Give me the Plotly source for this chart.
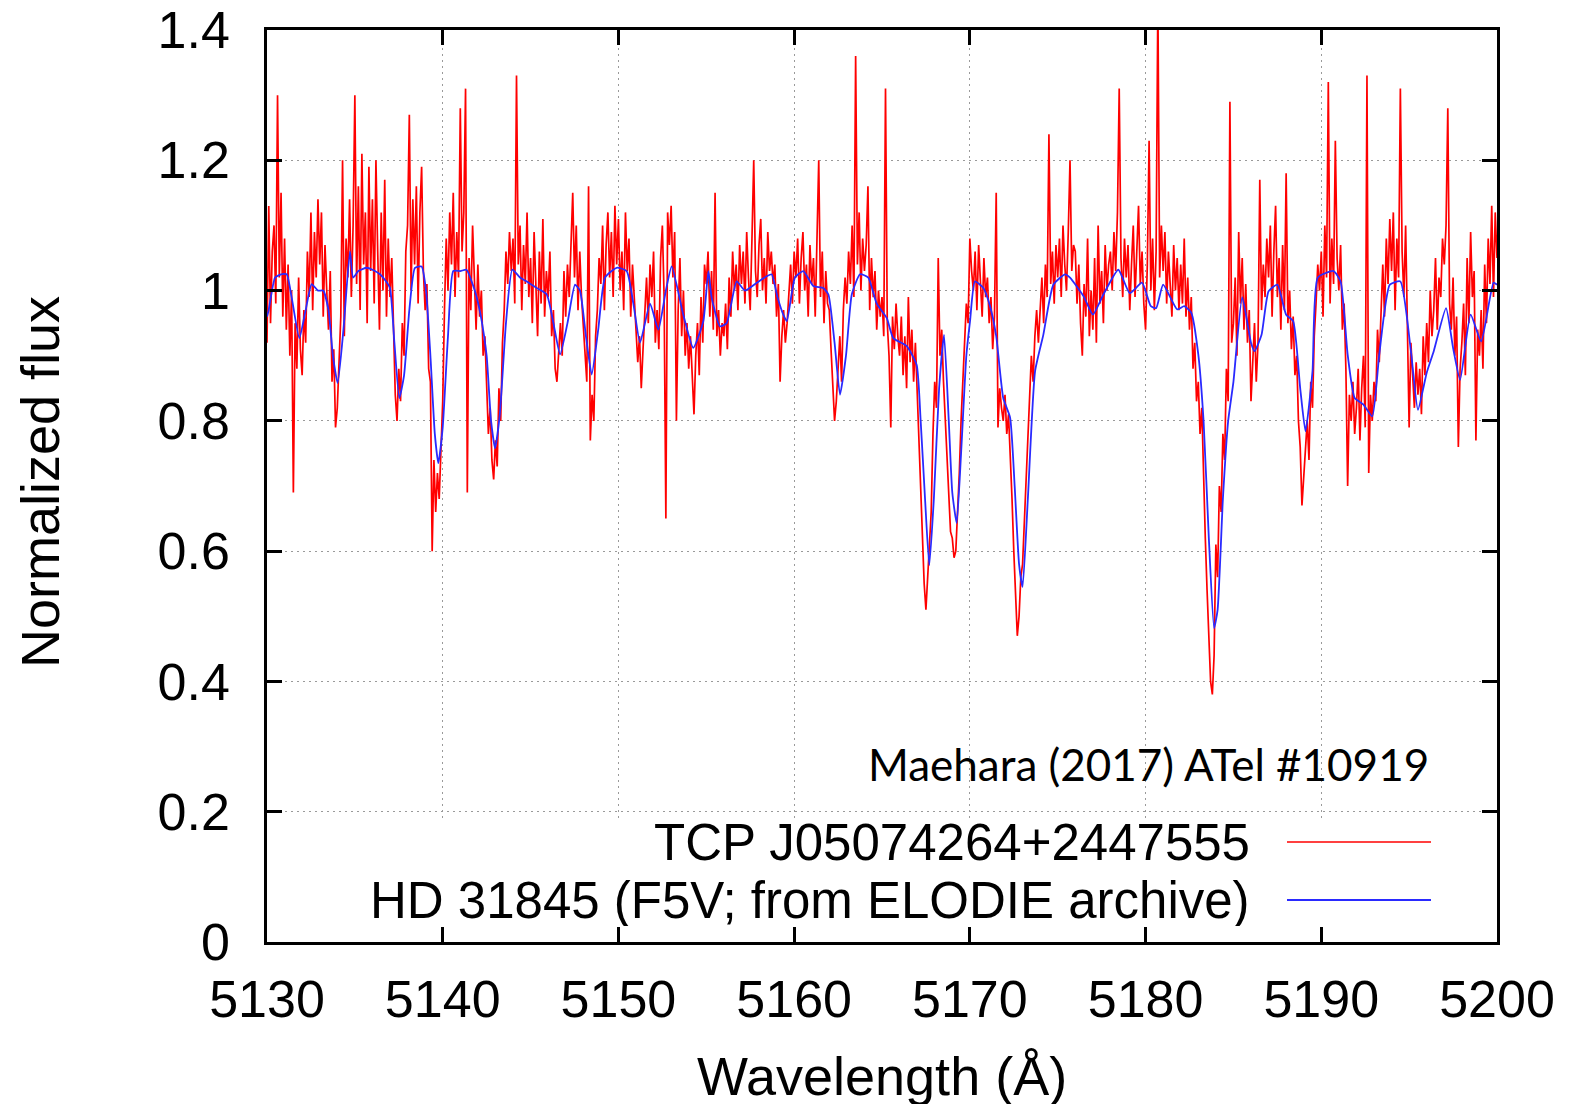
import numpy as np
import plotly.graph_objects as go

# Reference star spectrum (HD 31845, F5V, ELODIE archive)
blue_wl = [
    5130.0, 5130.08, 5130.46, 5130.8, 5131.12, 5131.4, 5131.84, 5132.2, 5132.54, 5132.9,
    5133.2, 5133.5, 5133.75, 5134.02, 5134.35, 5134.72, 5134.9, 5135.2, 5135.67, 5136.0,
    5136.43, 5136.75, 5137.0, 5137.25, 5137.53, 5137.8, 5138.1, 5138.42, 5138.8, 5139.05,
    5139.3, 5139.55, 5139.75, 5140.0, 5140.3, 5140.6, 5141.0, 5141.36, 5141.7, 5141.93,
    5142.22, 5142.5, 5142.75, 5142.98, 5143.25, 5143.6, 5143.96, 5144.4, 5144.78, 5145.35,
    5145.92, 5146.3, 5146.68, 5147.1, 5147.53, 5147.81, 5148.15, 5148.48, 5148.85, 5149.24,
    5149.9, 5150.47, 5150.85, 5151.23, 5151.8, 5152.27, 5152.7, 5153.03, 5153.69, 5154.26,
    5154.83, 5155.12, 5155.3, 5155.78, 5156.16, 5156.73, 5157.2, 5157.87, 5158.44, 5158.72,
    5159.05, 5159.38, 5159.58, 5160.05, 5160.52, 5161.09, 5161.66, 5161.95, 5162.3, 5162.61,
    5162.95, 5163.28, 5163.75, 5164.22, 5164.7, 5165.27, 5165.64, 5166.4, 5166.97, 5167.2,
    5167.45, 5167.69, 5167.95, 5168.25, 5168.53, 5168.8, 5169.0, 5169.25, 5169.5, 5169.8,
    5170.01, 5170.29, 5170.77, 5171.15, 5171.5, 5171.9, 5172.29, 5172.55, 5172.8, 5173.0,
    5173.3, 5173.71, 5174.18, 5174.75, 5175.42, 5175.7, 5176.5, 5177.0, 5177.6, 5178.45,
    5179.1, 5179.8, 5180.3, 5180.6, 5181.0, 5181.8, 5182.2, 5182.6, 5183.0, 5183.3,
    5183.6, 5183.9, 5184.1, 5184.4, 5184.7, 5185.0, 5185.5, 5186.0, 5186.2, 5186.6,
    5187.0, 5187.5, 5188.0, 5188.4, 5188.8, 5189.1, 5189.5, 5189.8, 5190.7, 5191.1,
    5191.5, 5191.9, 5192.4, 5192.9, 5193.3, 5193.9, 5194.5, 5195.1, 5195.5, 5196.0,
    5196.4, 5197.1, 5197.5, 5197.9, 5198.5, 5199.1, 5199.8, 5200.0,
]
blue_flux = [
    0.96, 0.968, 1.02, 1.025, 1.025, 0.99, 0.927, 0.97, 1.01, 1.0,
    1.0, 0.97, 0.9, 0.858, 0.94, 1.06, 1.02, 1.03, 1.035, 1.032,
    1.025, 1.015, 1.004, 0.92, 0.835, 0.87, 0.97, 1.035, 1.037, 1.0,
    0.9, 0.78, 0.735, 0.79, 0.93, 1.03, 1.03, 1.032, 1.01, 0.99,
    0.953, 0.9, 0.8, 0.758, 0.81, 0.95, 1.032, 1.02, 1.014, 1.004,
    0.994, 0.95, 0.902, 0.95, 1.009, 1.0, 0.93, 0.871, 0.94, 1.02,
    1.035, 1.03, 0.98, 0.92, 0.98, 0.94, 1.0, 1.037, 0.963, 0.912,
    0.953, 1.03, 0.99, 0.945, 0.95, 1.014, 1.0, 1.012, 1.022, 1.025,
    0.99, 0.963, 0.953, 1.02, 1.03, 1.007, 1.004, 0.994, 0.92, 0.84,
    0.9, 0.994, 1.025, 1.02, 0.98, 0.958, 0.927, 0.915, 0.886, 0.8,
    0.68, 0.578, 0.68, 0.85, 0.932, 0.8, 0.69, 0.643, 0.75, 0.9,
    0.953, 1.014, 1.004, 0.976, 0.93, 0.835, 0.805, 0.7, 0.58, 0.545,
    0.68, 0.876, 0.932, 1.009, 1.025, 1.02, 0.99, 0.963, 0.994, 1.032,
    0.996, 1.012, 0.976, 0.973, 1.009, 0.971, 0.976, 0.966, 0.902, 0.8,
    0.62, 0.482, 0.51, 0.68, 0.8, 0.86, 0.99, 0.92, 0.907, 0.932,
    0.999, 1.009, 0.963, 0.953, 0.85, 0.784, 0.876, 1.02, 1.03, 1.014,
    0.902, 0.835, 0.825, 0.807, 0.902, 1.009, 1.014, 0.907, 0.817, 0.874,
    0.907, 0.973, 0.912, 0.863, 0.963, 0.922, 1.012, 1.009,
]

# Nova spectrum (TCP J05074264+2447555), sampled every 0.1 A from 5130.0 A
red_start = 5130.0
red_step = 0.1
red_flux = [
    0.92, 1.13, 0.95, 1.06, 1.10, 0.98, 1.30, 1.02, 1.15, 0.96,  # 5130
    1.08, 0.94, 1.04, 0.90, 1.00, 0.69, 0.95, 0.88, 1.02, 0.91,  # 5131
    0.87, 0.97, 0.92, 1.06, 0.99, 1.12, 0.97, 1.09, 1.02, 1.14,  # 5132
    1.04, 1.12, 0.96, 1.07, 1.00, 0.94, 1.03, 0.86, 0.91, 0.79,  # 5133
    0.82, 0.88, 0.96, 1.20, 0.93, 1.08, 1.02, 1.14, 0.99, 1.10,  # 5134
    1.30, 1.01, 1.16, 0.97, 1.21, 1.04, 1.12, 0.95, 1.19, 1.03,  # 5135
    1.14, 0.98, 1.20, 1.06, 0.94, 1.12, 1.00, 1.17, 0.96, 1.08,  # 5136
    0.99, 1.05, 0.92, 0.84, 0.80, 0.88, 0.83, 0.95, 0.90, 1.06,  # 5137
    1.10, 1.27, 1.00, 1.14, 1.04, 1.16, 0.98, 1.12, 1.19, 1.03,  # 5138
    0.97, 1.01, 0.88, 0.86, 0.60, 0.74, 0.66, 0.72, 0.68, 0.77,  # 5139
    0.83, 0.97, 1.08, 1.00, 1.12, 1.04, 1.15, 0.99, 1.09, 1.02,  # 5140
    1.28, 1.06, 1.12, 1.31, 0.69, 1.05, 0.97, 1.10, 1.02, 0.94,  # 5141
    1.04, 0.96, 1.00, 0.90, 0.93, 0.84, 0.78, 0.82, 0.74, 0.71,  # 5142
    0.77, 0.73, 0.85, 0.80, 0.92, 0.97, 1.06, 1.01, 1.09, 1.03,  # 5143
    1.08, 0.98, 1.33, 1.04, 1.10, 0.97, 1.07, 1.01, 1.12, 0.99,  # 5144
    1.05, 0.95, 1.09, 1.01, 0.93, 1.06, 0.98, 1.11, 0.96, 1.03,  # 5145
    0.99, 1.06, 0.93, 0.97, 0.88, 0.86, 0.91, 0.95, 0.90, 1.03,  # 5146
    0.96, 1.04, 0.99, 1.08, 1.15, 1.02, 1.10, 0.97, 1.06, 0.99,  # 5147
    0.94, 0.90, 0.86, 1.16, 0.77, 0.84, 0.80, 0.93, 0.97, 1.05,  # 5148
    1.01, 1.10, 0.97, 1.07, 1.12, 1.02, 1.09, 0.99, 1.13, 1.04,  # 5149
    1.11, 1.00, 1.06, 0.97, 1.12, 1.03, 1.08, 0.96, 1.04, 0.99,  # 5150
    0.94, 0.89, 0.93, 0.85, 0.91, 0.96, 1.02, 0.95, 1.04, 0.99,  # 5151
    1.06, 0.92, 0.97, 0.91, 1.05, 1.10, 0.99, 0.65, 1.12, 1.07,  # 5152
    1.13, 1.02, 1.09, 0.80, 0.97, 1.05, 0.93, 1.00, 0.90, 0.95,  # 5153
    0.88, 0.93, 0.86, 0.81, 0.90, 0.95, 0.87, 0.99, 0.92, 1.04,  # 5154
    1.01, 1.06, 0.96, 1.03, 0.94, 1.15, 0.93, 0.97, 0.90, 0.95,  # 5155
    0.93, 0.98, 0.91, 1.02, 0.96, 1.06, 1.00, 1.04, 0.97, 1.07,  # 5156
    1.01, 1.06, 0.98, 1.09, 1.02, 0.97, 1.08, 1.20, 1.03, 0.99,  # 5157
    1.07, 1.11, 1.00, 1.05, 0.98, 1.09, 1.03, 1.06, 1.01, 1.04,  # 5158
    0.96, 1.01, 0.86, 0.93, 0.97, 0.92, 0.95, 1.00, 1.04, 0.98,  # 5159
    1.06, 1.02, 1.08, 0.98, 1.05, 1.09, 1.00, 1.04, 0.96, 1.07,  # 5160
    1.01, 1.05, 0.96, 1.08, 1.20, 0.99, 1.06, 0.95, 1.03, 0.98,  # 5161
    0.97, 0.91, 0.85, 0.80, 0.83, 0.88, 0.93, 0.86, 0.97, 1.02,  # 5162
    0.98, 1.06, 1.01, 1.10, 0.99, 1.36, 1.04, 1.12, 1.00, 1.08,  # 5163
    1.03, 1.07, 1.16, 0.97, 1.05, 0.99, 1.03, 0.94, 1.00, 0.96,  # 5164
    0.99, 0.93, 1.31, 0.95, 0.90, 0.79, 0.96, 0.91, 0.98, 0.93,  # 5165
    0.90, 0.96, 0.87, 0.93, 0.85, 0.99, 0.89, 0.94, 0.86, 0.92,  # 5166
    0.84, 0.78, 0.70, 0.62, 0.55, 0.51, 0.56, 0.60, 0.66, 0.78,  # 5167
    0.86, 0.82, 1.05, 0.90, 0.94, 0.86, 0.80, 0.74, 0.68, 0.63,  # 5168
    0.62, 0.59, 0.60, 0.65, 0.72, 0.80, 0.86, 0.92, 0.98, 0.95,  # 5169
    1.08, 1.03, 1.00, 1.06, 0.97, 1.07, 1.02, 0.96, 1.05, 0.99,  # 5170
    1.02, 0.95, 0.99, 0.91, 0.96, 1.15, 0.79, 0.85, 0.82, 0.80,  # 5171
    0.84, 0.78, 0.81, 0.75, 0.68, 0.60, 0.53, 0.47, 0.50, 0.56,  # 5172
    0.58, 0.64, 0.72, 0.78, 0.84, 0.90, 0.86, 0.93, 0.97, 0.92,  # 5173
    0.97, 1.02, 0.95, 1.04, 0.99, 1.24, 1.01, 1.06, 0.98, 1.07,  # 5174
    1.02, 1.08, 0.99, 1.10, 1.04, 1.00, 1.09, 1.20, 1.03, 1.07,  # 5175
    1.06, 0.98, 1.04, 0.95, 0.90, 1.01, 0.96, 1.08, 0.93, 1.00,  # 5176
    0.94, 1.05, 0.92, 1.10, 0.98, 1.03, 0.95, 1.07, 1.00, 1.04,  # 5177
    1.06, 1.00, 1.09, 1.03, 1.12, 1.31, 1.05, 0.99, 1.08, 1.02,  # 5178
    1.07, 0.97, 1.04, 1.10, 0.99, 1.05, 1.13, 1.01, 1.06, 0.98,  # 5179
    0.94, 1.04, 1.23, 1.00, 1.08, 0.97, 1.06, 1.45, 1.02, 1.10,  # 5180
    1.03, 1.09, 0.98, 1.06, 1.01, 0.96, 1.07, 1.00, 1.05, 0.97,  # 5181
    1.04, 0.98, 1.08, 0.96, 1.02, 0.94, 0.99, 0.88, 0.92, 0.83,  # 5182
    0.86, 0.78, 0.82, 0.70, 0.62, 0.54, 0.46, 0.40, 0.38, 0.44,  # 5183
    0.61, 0.56, 0.70, 0.66, 0.78, 0.74, 0.88, 0.83, 1.29, 0.92,  # 5184
    0.95, 1.02, 0.90, 1.09, 0.98, 1.05, 0.94, 1.01, 0.92, 0.97,  # 5185
    0.83, 0.88, 0.95, 0.86, 0.92, 1.17, 0.97, 1.04, 0.99, 1.08,  # 5186
    1.02, 1.10, 0.96, 1.06, 1.13, 0.99, 1.05, 0.94, 1.07, 0.97,  # 5187
    1.18, 0.95, 1.00, 0.91, 0.96, 0.87, 0.90, 0.80, 0.76, 0.67,  # 5188
    0.72, 0.76, 0.80, 0.74, 0.86, 0.82, 0.93, 0.98, 1.04, 1.00,  # 5189
    1.06, 0.96, 1.10, 1.02, 1.32, 0.98, 1.08, 1.01, 1.23, 1.05,  # 5190
    1.00, 1.07, 0.94, 0.98, 0.88, 0.70, 0.84, 0.80, 0.86, 0.78,  # 5191
    0.82, 0.88, 0.77, 0.85, 0.90, 0.79, 1.33, 0.72, 0.84, 0.80,  # 5192
    0.86, 0.83, 0.94, 0.89, 0.97, 1.04, 0.96, 1.08, 1.01, 1.11,  # 5193
    1.03, 1.12, 0.97, 1.08, 1.02, 1.31, 1.06, 0.99, 1.10, 0.95,  # 5194
    0.79, 0.92, 0.86, 0.82, 0.89, 0.84, 0.88, 0.81, 0.93, 0.87,  # 5195
    0.95, 0.89, 1.00, 0.93, 0.97, 1.05, 0.94, 1.02, 0.99, 1.08,  # 5196
    1.04, 1.10, 1.28, 0.98, 0.94, 1.02, 0.90, 0.96, 0.76, 0.88,  # 5197
    0.92, 0.98, 0.87, 1.05, 0.95, 1.09, 0.99, 1.03, 0.77, 0.94,  # 5198
    0.90, 0.97, 0.88, 1.04, 0.95, 1.08, 1.01, 1.13, 0.99, 1.12,  # 5199
    1.05,                                                        # 5200
]
red_wl = np.round(red_start + red_step * np.arange(len(red_flux)), 2)

x_ticks = [5130, 5140, 5150, 5160, 5170, 5180, 5190, 5200]
y_ticks = [0, 0.2, 0.4, 0.6, 0.8, 1.0, 1.2, 1.4]
y_tick_text = ["0", "0.2", "0.4", "0.6", "0.8", "1", "1.2", "1.4"]

series_names = ["TCP J05074264+2447555", "HD 31845 (F5V; from ELODIE archive)"]
series_colors = ["#ff0000", "#2a2aff"]
credit = "Maehara (2017) ATel #10919"

W, H = 1580, 1108
L, R, T, B = 267, 83, 30, 166
pw, ph = W - L - R, H - T - B

def px_x(px):
    return (px - L) / pw

def px_y(py):
    return (H - B - py) / ph

font_main = "Liberation Sans, Arial, Helvetica, sans-serif"

fig = go.Figure()
fig.add_trace(go.Scatter(
    x=red_wl, y=red_flux, mode="lines", name=series_names[0],
    line=dict(color=series_colors[0], width=1.7), showlegend=False,
))
fig.add_trace(go.Scatter(
    x=blue_wl, y=blue_flux, mode="lines", name=series_names[1],
    line=dict(color=series_colors[1], width=1.8, shape="spline", smoothing=0.5),
    showlegend=False,
))

axis_common = dict(
    ticks="inside", ticklen=15, tickwidth=2.5, tickcolor="black",
    showline=True, linewidth=2.5, linecolor="black", mirror="ticks",
    showgrid=True, gridcolor="#9a9a9a", gridwidth=1.4, griddash="2px,4px",
    zeroline=False, tickfont=dict(family=font_main, size=52, color="black"),
    automargin=False,
)

fig.update_layout(
    width=W, height=H,
    margin=dict(l=L, r=R, t=T, b=B, autoexpand=False),
    paper_bgcolor="white", plot_bgcolor="white",
    xaxis=dict(range=[5130, 5200], tickvals=x_ticks, ticklabelstandoff=10, **axis_common),
    yaxis=dict(range=[0, 1.4], tickvals=y_ticks, ticktext=y_tick_text,
               ticklabelstandoff=24, **axis_common),
    showlegend=False,
)

# opaque key area along the bottom of the plot
fig.add_shape(type="rect", xref="x", yref="y", x0=5130, x1=5200, y0=0, y1=0.19,
              fillcolor="white", line=dict(width=0), layer="between")

# key: text on the left, line sample on the right
key_rows = [842.0, 900.0]
for name, color, yrow in zip(series_names, series_colors, key_rows):
    fig.add_shape(type="line", xref="paper", yref="paper",
                  x0=px_x(1287), x1=px_x(1431), y0=px_y(yrow), y1=px_y(yrow),
                  line=dict(color=color, width=2.2 if color == series_colors[1] else 1.6),
                  layer="above")
    fig.add_annotation(xref="paper", yref="paper", x=px_x(1251), y=px_y(yrow),
                       xanchor="right", yanchor="middle", showarrow=False, text=name,
                       height=52, valign="middle", borderpad=0,
                       font=dict(family=font_main, size=51, color="black"))

fig.add_annotation(xref="paper", yref="paper", x=px_x(1431), y=px_y(764),
                   xanchor="right", yanchor="middle", showarrow=False, text=credit,
                   font=dict(family="Lato, Carlito, sans-serif", size=44, color="black"))

# axis titles
fig.add_annotation(xref="paper", yref="paper", x=0.5, y=px_y(1076),
                   xanchor="center", yanchor="middle", showarrow=False,
                   text="Wavelength (Å)", height=56, valign="middle", borderpad=0,
                   font=dict(family=font_main, size=54, color="black"))
fig.add_annotation(xref="paper", yref="paper", x=px_x(40), y=px_y(482),
                   xanchor="center", yanchor="middle", showarrow=False, textangle=-90,
                   text="Normalized flux", font=dict(family=font_main, size=54, color="black"))

fig.write_html("out.html")
